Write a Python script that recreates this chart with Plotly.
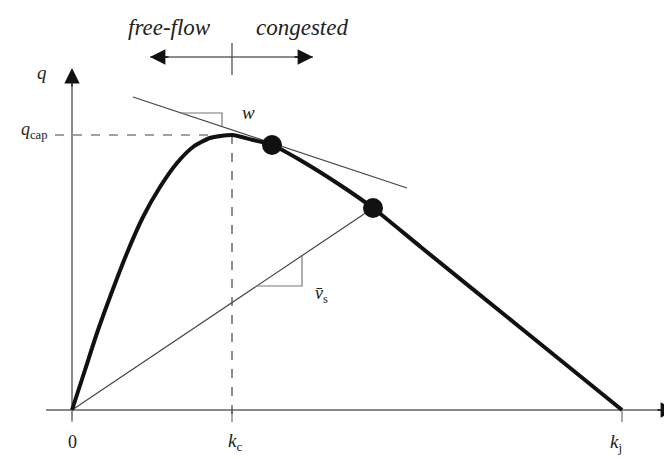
import plotly.graph_objects as go

# fundamental diagram (density k, flow q; arbitrary units)
density = [0, 13, 25, 38, 55, 71, 88, 105, 121, 138, 160, 181, 200, 228, 268, 301, 350, 450, 550]
flow = [0, 40, 77, 113, 157, 193, 223, 247, 263, 272, 275, 270, 265, 250, 225, 202, 162, 81, 0]

k_c, k_j, q_cap = 160, 550, 275

dots_k = [200, 301]
dots_q = [265, 202]

tangent_k = [61, 335]          # wave-speed line w
tangent_q = [313, 222]
w_tri_k = [109, 150, 150]
w_tri_q = [297, 297, 284]

chord_k = [0, 301]             # line through origin (v_s)
chord_q = [0, 202]
vs_tri_k = [185, 230, 230]
vs_tri_q = [124, 124, 154]

regime_k = [78, 241]           # free-flow / congested arrow
regime_q = 353

AXIS = "#8a8a8a"
INK = "#111111"
THIN = "#444444"
FONT = "Liberation Serif"

fig = go.Figure()


def seg(x, y, color, width, dash=None):
    fig.add_trace(go.Scatter(x=x, y=y, mode="lines", hoverinfo="skip", showlegend=False,
                             line=dict(color=color, width=width, dash=dash)))


# axes + ticks
seg([-26, 592], [0, 0], AXIS, 2)
seg([0, 0], [-10, 325], AXIS, 2)
for t in (0, k_c, k_j):
    seg([t, t], [0, -12], AXIS, 1.5)

# dashed guides at capacity
seg([-17, k_c], [q_cap, q_cap], THIN, 1.2, "dash")
seg([k_c, k_c], [q_cap, -12], THIN, 1.2, "dash")

# thin lines and slope triangles
seg(tangent_k, tangent_q, THIN, 1.2)
seg(w_tri_k, w_tri_q, "#777777", 1.2)
seg(chord_k, chord_q, THIN, 1.2)
seg(vs_tri_k, vs_tri_q, "#777777", 1.2)

# regime arrow
seg(regime_k, [regime_q, regime_q], "#666666", 1.5)
seg([k_c, k_c], [regime_q - 18, regime_q + 14], THIN, 1.2)

# curve and dots
fig.add_trace(go.Scatter(x=density, y=flow, mode="lines", hoverinfo="skip", showlegend=False,
                         line=dict(color=INK, width=4, shape="spline", smoothing=0.6)))
fig.add_trace(go.Scatter(x=dots_k, y=dots_q, mode="markers", hoverinfo="skip", showlegend=False,
                         marker=dict(color=INK, size=20)))

# arrowheads
heads = [
    (604, 0, 584, 0),
    (0, 342, 0, 322),
    (regime_k[0], regime_q, regime_k[0] + 20, regime_q),
    (regime_k[1], regime_q, regime_k[1] - 20, regime_q),
]
for x, y, ax, ay in heads:
    fig.add_annotation(x=x, y=y, ax=ax, ay=ay, xref="x", yref="y", axref="x", ayref="y",
                       text="", showarrow=True, arrowhead=2, arrowsize=2.2,
                       arrowwidth=1.4, arrowcolor=INK, standoff=0)

labels = [
    (0, -32, "0", 18),
    (k_c + 3, -32, "<i>k</i><sub>c</sub>", 19),
    (k_j - 6, -33, "<i>k</i><sub>j</sub>", 19),
    (599, -33, "<i>k</i>", 19),
    (-30, 338, "<i>q</i>", 19),
    (-38, 280, "<i>q</i><sub>cap</sub>", 18),
    (176, 298, "<i>w</i>", 19),
    (249, 116, "<i>v̄</i><sub>s</sub>", 18),
    (97, 383, "<i>free-flow</i>", 23),
    (230, 383, "<i>congested</i>", 23),
]
for x, y, t, s in labels:
    fig.add_annotation(x=x, y=y, xref="x", yref="y", text=t, showarrow=False,
                       font=dict(family=FONT, size=s, color="#222222"))

# ranges offset by the page's 8px body margin so the origin lands where it should
fig.update_layout(
    width=672, height=459,
    margin=dict(l=0, r=0, t=0, b=0),
    paper_bgcolor="white", plot_bgcolor="white",
    xaxis=dict(range=[-64, 608], visible=False),
    yaxis=dict(range=[-57, 402], visible=False),
)
fig.write_html("out.html")
